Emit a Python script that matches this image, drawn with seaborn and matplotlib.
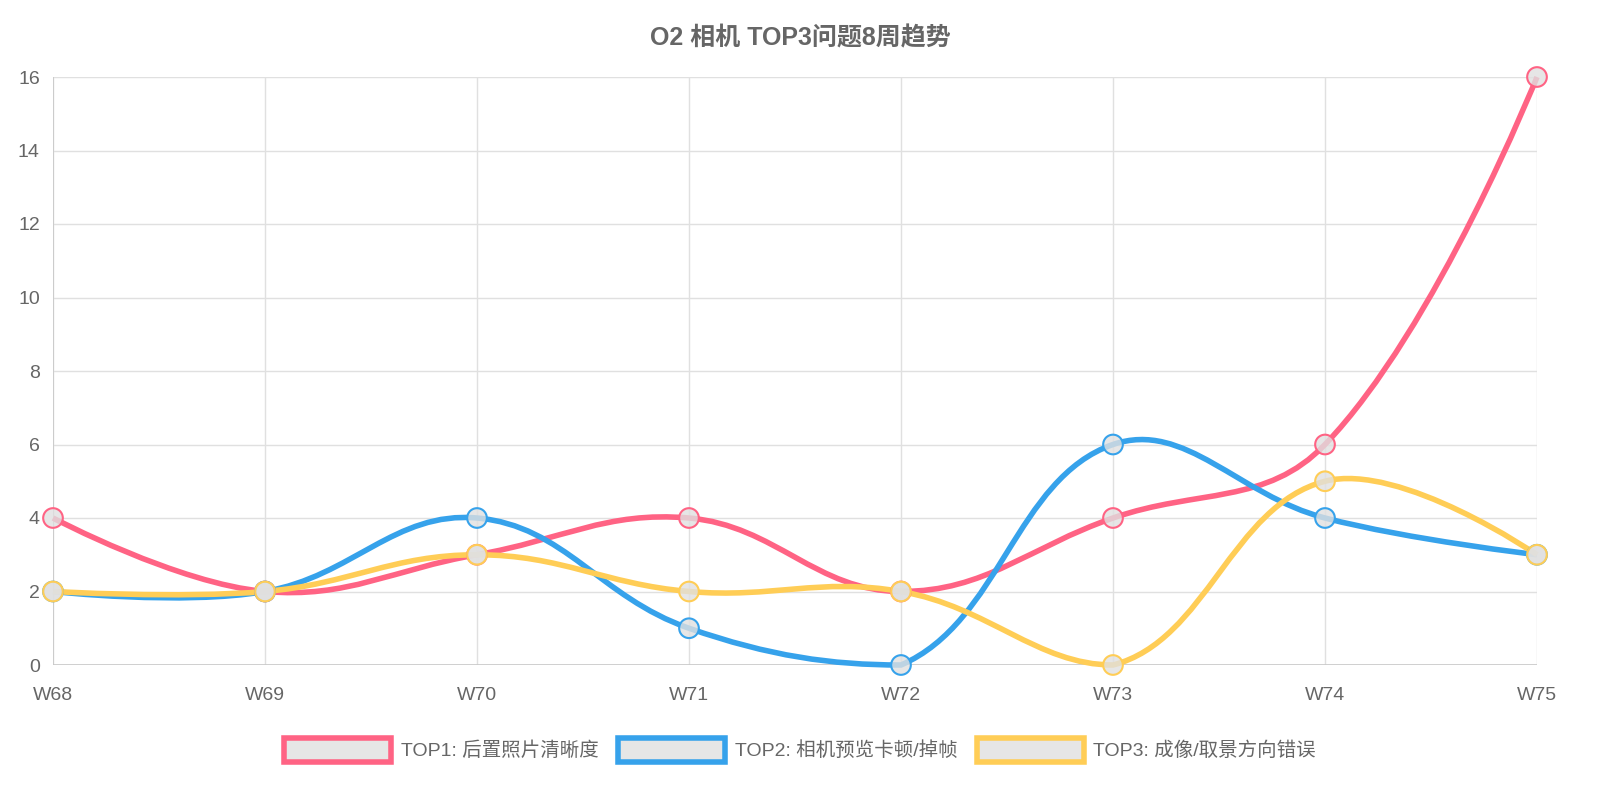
import numpy as np
import pandas as pd
import matplotlib
matplotlib.use("Agg")
import matplotlib.pyplot as plt
import seaborn as sns
from matplotlib.path import Path
from matplotlib.patches import PathPatch, Patch

weeks = ["W68", "W69", "W70", "W71", "W72", "W73", "W74", "W75"]
top1 = [4, 2, 3, 4, 2, 4, 6, 16]
top2 = [2, 2, 4, 1, 0, 6, 4, 3]
top3 = [2, 2, 3, 2, 2, 0, 5, 3]
names = ["TOP1: 后置照片清晰度", "TOP2: 相机预览卡顿/掉帧", "TOP3: 成像/取景方向错误"]
colors = ["#ff6384", "#36a2eb", "#ffcd56"]

sns.set_theme(style="white")
plt.rcParams["font.family"] = ["Liberation Sans", "Noto Sans CJK SC", "DejaVu Sans"]

df = pd.DataFrame({"week": list(range(len(weeks))) * 3,
                   "value": top1 + top2 + top3,
                   "series": sum([[n] * len(weeks) for n in names], [])})


def spline_path(xs, ys, t=0.4, sx=212.0, sy=36.8, ymin=0, ymax=16):
    # Chart.js style bezier control points, distances in pixel space, capped to chart area
    pts = np.column_stack([xs, ys]).astype(float)
    n = len(pts)
    scale = np.array([sx, sy])
    cp_prev, cp_next = pts.copy(), pts.copy()
    for i in range(1, n - 1):
        p, c, nx = pts[i - 1], pts[i], pts[i + 1]
        d01 = np.linalg.norm((c - p) * scale)
        d12 = np.linalg.norm((nx - c) * scale)
        s01 = d01 / (d01 + d12) if d01 + d12 else 0
        s12 = d12 / (d01 + d12) if d01 + d12 else 0
        cp_prev[i] = c - t * s01 * (nx - p)
        cp_next[i] = c + t * s12 * (nx - p)
    cp_prev[:, 1] = np.clip(cp_prev[:, 1], ymin, ymax)
    cp_next[:, 1] = np.clip(cp_next[:, 1], ymin, ymax)
    verts = [pts[0]]
    codes = [Path.MOVETO]
    for i in range(n - 1):
        verts += [cp_next[i], cp_prev[i + 1], pts[i + 1]]
        codes += [Path.CURVE4] * 3
    return Path(verts, codes)


fig = plt.figure(figsize=(16, 8), dpi=100)
ax = fig.add_axes([53 / 1600, 1 - 665 / 800, (1537 - 53) / 1600, (665 - 77) / 800])

for name, col in zip(names, colors):
    sub = df[df["series"] == name]
    ax.add_patch(PathPatch(spline_path(sub["week"], sub["value"]), facecolor="none",
                           edgecolor=col, lw=4, zorder=3, clip_on=False))

sns.scatterplot(data=df, x="week", y="value", hue="series", palette=dict(zip(names, colors)),
                ax=ax, s=200, legend=False, zorder=4, clip_on=False)
coll = ax.collections[-1]
coll.set_facecolor((0.88, 0.88, 0.88, 0.8))
coll.set_edgecolor([dict(zip(names, colors))[s] for s in df["series"]])
coll.set_linewidth(1.5)

ax.set_xlim(0, len(weeks) - 1)
ax.set_ylim(0, 16)
ax.set_xticks(range(len(weeks)))
ax.set_xticklabels(weeks)
ax.set_yticks(range(0, 17, 2))
ax.grid(True, color="#e0e0e0", lw=1)
for s in ax.spines.values():
    s.set_visible(False)
ax.axhline(0, color="#c8c8c8", lw=1.2, zorder=1)
ax.axvline(0, color="#c8c8c8", lw=1.2, zorder=1)
ax.tick_params(axis="both", colors="#666666", labelsize=14, length=6, color="#e0e0e0")
ax.tick_params(axis="x", pad=10)
ax.set_xlabel("")
ax.set_ylabel("")

fig.text(0.5, 1 - 38 / 800, "O2 相机 TOP3问题8周趋势", ha="center", va="center",
         fontsize=18, fontweight="bold", color="#666666")

handles = [Patch(facecolor="#e6e6e6", edgecolor=c, lw=4, label=n) for n, c in zip(names, colors)]
fig.legend(handles=handles, loc="center", bbox_to_anchor=(0.5, 1 - 750 / 800), ncol=3,
           frameon=False, fontsize=14, handlelength=5.5, handleheight=1.5,
           handletextpad=0.5, columnspacing=1.0, labelcolor="#666666")

fig.savefig("out.png", dpi=100)
